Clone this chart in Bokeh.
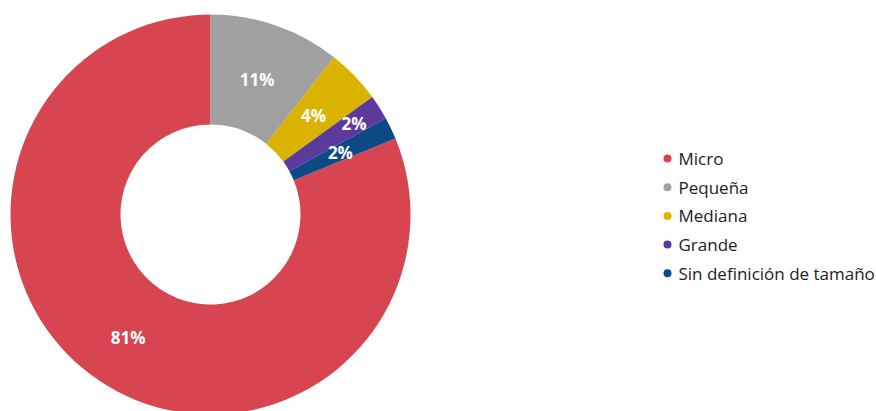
import math
from bokeh.plotting import figure
from bokeh.models import Range1d, ColumnDataSource
from bokeh.core.properties import value
from bokeh.embed import file_html
from bokeh.resources import INLINE

categories = ["Micro", "Pequeña", "Mediana", "Grande", "Sin definición de tamaño"]
shares = [81.2, 10.6, 4.4, 2.0, 1.8]
colors = ["#D64550", "#A0A0A0", "#D9B300", "#5B3A9C", "#0D4A85"]
label_radius = [148, 143, 143, 170, 144]

W, H = 876, 411
CX, CY = 210, 214  # centre offset from frame's left / top (px)
R_IN, R_OUT = 90, 200

p = figure(width=W, height=H, output_backend="svg", toolbar_location=None,
           x_range=Range1d(-CX, W - CX), y_range=Range1d(-(H - CY), CY),
           min_border=0, min_border_left=0, min_border_right=0,
           min_border_top=0, min_border_bottom=0)
p.axis.visible = False
p.grid.visible = False
p.outline_line_color = None
p.background_fill_color = "white"

total = sum(shares)
# Micro ends at 12 o'clock; the others follow clockwise from the top
start = 1 - shares[0] / total
starts, ends, lx, ly, labels = [], [], [], [], []
cum = start
for i, v in enumerate(shares):
    f0 = cum
    f1 = cum + v / total
    cum = f1 % 1 if f1 > 1 else f1
    a0 = math.pi / 2 - 2 * math.pi * f0
    a1 = math.pi / 2 - 2 * math.pi * f1
    starts.append(a0)
    ends.append(a1)
    mid = (a0 + a1) / 2
    lx.append(label_radius[i] * math.cos(mid))
    ly.append(label_radius[i] * math.sin(mid))
    labels.append(f"{round(v)}%")

src = ColumnDataSource(dict(start=starts, end=ends, color=colors, lx=lx, ly=ly, label=labels))
p.annular_wedge(x=0, y=0, inner_radius=R_IN, outer_radius=R_OUT,
                start_angle="start", end_angle="end", direction="clock",
                fill_color="color", line_color=None, source=src)
p.text(x="lx", y="ly", text="label", source=src, text_color="white",
       text_font=value("Open Sans"), text_font_style="bold", text_font_size="17px",
       text_align="center", text_baseline="middle")

# legend
leg_x = 667 - CX
leg_y0 = CY - 158
step = 28.7
ys = [leg_y0 - step * i for i in range(len(categories))]
p.scatter(x=[leg_x] * len(categories), y=ys, size=8, marker="circle",
          fill_color=colors, line_color=None)
p.text(x=[leg_x + 11] * len(categories), y=ys, text=categories, text_color="#222222",
       text_font=value("Open Sans"), text_font_size="17px",
       text_align="left", text_baseline="middle")

open("out.html", "w").write(file_html(p, INLINE))
